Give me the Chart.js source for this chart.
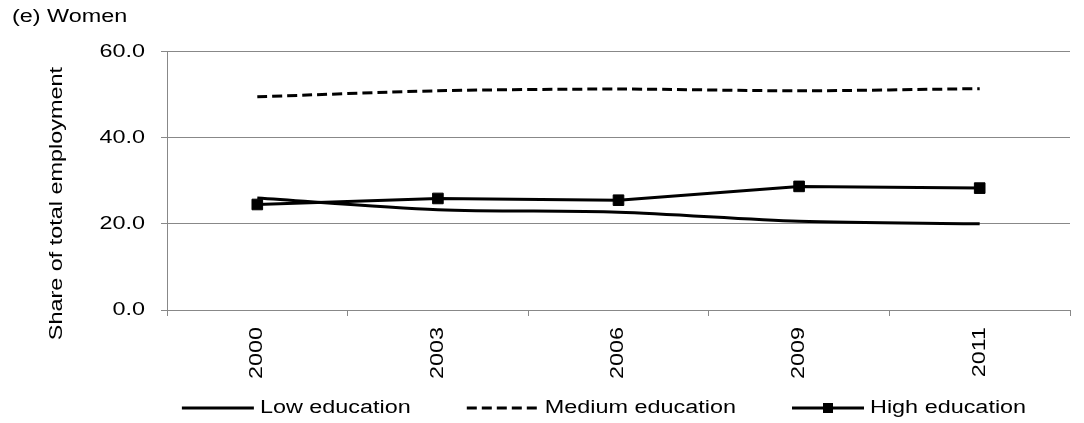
<!DOCTYPE html>
<html>
<head>
<meta charset="utf-8">
<script src="https://cdn.jsdelivr.net/npm/chart.js@4.4.1/dist/chart.umd.min.js"></script>
<style>
  html, body { margin: 0; padding: 0; background: #fff; }
  #wrap { width: 1084px; height: 423px; }
</style>
</head>
<body>
<div id="wrap"><canvas id="chart" width="1084" height="423"></canvas></div>
<script>
// data
const years = ["2000", "2003", "2006", "2009", "2011"];
const lowEducation = [26.0, 23.3, 22.7, 20.6, 20.0];
const mediumEducation = [49.5, 50.9, 51.3, 50.9, 51.4];
const highEducation = [24.5, 25.9, 25.5, 28.7, 28.3];
const yMin = 0;
const yMax = 60;
const yStep = 20;

const FONT = "'Liberation Sans', Arial, sans-serif";
const FONT_SIZE = 18;
const GRID = "#888888";
// the original text is drawn wider than normal Arial
const TEXT_STRETCH = 1.3;

const canvas = document.getElementById("chart");
const ctx = canvas.getContext("2d");

// stretch every text horizontally (along its own reading direction)
const origFill = ctx.fillText.bind(ctx);
const origMeasure = ctx.measureText.bind(ctx);
ctx.fillText = function (text, x, y, maxWidth) {
  this.save();
  this.translate(x, y);
  this.scale(TEXT_STRETCH, 1);
  if (maxWidth !== undefined) origFill(text, 0, 0, maxWidth / TEXT_STRETCH);
  else origFill(text, 0, 0);
  this.restore();
};
ctx.measureText = function (text) {
  const m = origMeasure(text);
  return {
    width: m.width * TEXT_STRETCH,
    actualBoundingBoxAscent: m.actualBoundingBoxAscent,
    actualBoundingBoxDescent: m.actualBoundingBoxDescent,
    actualBoundingBoxLeft: m.actualBoundingBoxLeft * TEXT_STRETCH,
    actualBoundingBoxRight: m.actualBoundingBoxRight * TEXT_STRETCH,
  };
};

// legend under the chart: line sample, then label
const bottomLegend = {
  id: "bottomLegend",
  afterDraw(chart) {
    const c = chart.ctx;
    const y = chart.height - 15;
    const sampleW = 72, sampleGap = 6, itemGap = 56;
    c.save();
    c.font = FONT_SIZE + "px " + FONT;
    const widths = chart.data.datasets.map((ds) => c.measureText(ds.label).width);
    const total =
      widths.reduce((a, w) => a + sampleW + sampleGap + w, 0) + itemGap * (widths.length - 1);
    let x = 604 - total / 2;
    chart.data.datasets.forEach((ds, i) => {
      c.strokeStyle = ds.borderColor;
      c.lineWidth = ds.borderWidth;
      c.setLineDash(ds.borderDash || []);
      c.beginPath();
      c.moveTo(x, y);
      c.lineTo(x + sampleW, y);
      c.stroke();
      c.setLineDash([]);
      if (ds.pointRadius > 0) {
        const s = 10;
        c.fillStyle = ds.pointBackgroundColor;
        c.fillRect(x + sampleW / 2 - s / 2, y - s / 2, s, s);
      }
      c.fillStyle = "#000";
      c.textAlign = "left";
      c.textBaseline = "middle";
      c.fillText(ds.label, x + sampleW + sampleGap, y);
      x += sampleW + sampleGap + widths[i] + itemGap;
    });
    c.restore();
  },
};

new Chart(ctx, {
  type: "line",
  data: {
    labels: years,
    datasets: [
      {
        label: "Low education",
        data: lowEducation,
        borderColor: "#000",
        borderWidth: 3,
        pointRadius: 0,
        tension: 0.3,
      },
      {
        label: "Medium education",
        data: mediumEducation,
        borderColor: "#000",
        borderWidth: 3,
        borderDash: [10, 5],
        pointRadius: 0,
        tension: 0.3,
      },
      {
        label: "High education",
        data: highEducation,
        borderColor: "#000",
        borderWidth: 3,
        pointStyle: "rect",
        pointRadius: 7.5,
        pointBackgroundColor: "#000",
        pointBorderColor: "#000",
        pointBorderWidth: 1,
        tension: 0,
      },
    ],
  },
  options: {
    responsive: false,
    animation: false,
    layout: { padding: { left: 12, right: 14, top: 4, bottom: 43 } },
    plugins: {
      legend: { display: false },
      tooltip: { enabled: false },
      title: {
        display: true,
        text: "(e) Women",
        align: "start",
        color: "#000",
        font: { family: FONT, size: FONT_SIZE, weight: "normal" },
        padding: { top: 2, bottom: 24 },
      },
    },
    scales: {
      x: {
        offset: true,
        afterFit: (scale) => { scale.height = 70; },
        grid: {
          offset: true,
          drawOnChartArea: false,
          drawTicks: true,
          tickLength: 6,
          color: GRID,
        },
        border: { color: GRID, width: 1 },
        ticks: {
          autoSkip: false,
          minRotation: 90,
          maxRotation: 90,
          padding: 11,
          color: "#000",
          font: { family: FONT, size: FONT_SIZE },
        },
      },
      y: {
        min: yMin,
        max: yMax,
        afterFit: (scale) => { scale.width = 155; },
        grid: { color: GRID, lineWidth: 1, tickLength: 6 },
        border: { color: GRID, width: 1 },
        ticks: {
          stepSize: yStep,
          padding: 16,
          color: "#000",
          font: { family: FONT, size: FONT_SIZE },
          callback: (v) => Number(v).toFixed(1),
        },
        title: {
          display: true,
          text: "Share of total employment" + "\u00a0".repeat(7),
          color: "#000",
          font: { family: FONT, size: FONT_SIZE },
          padding: { top: 34, bottom: 0 },
        },
      },
    },
  },
  plugins: [bottomLegend],
});
</script>
</body>
</html>
